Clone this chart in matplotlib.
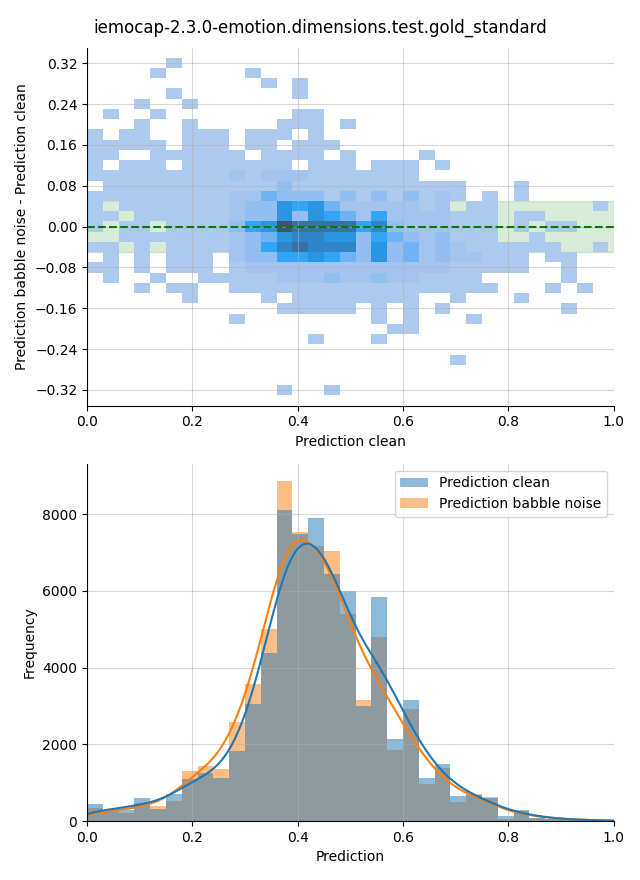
import numpy as np
import pandas as pd
import matplotlib
matplotlib.use("Agg")
import matplotlib.pyplot as plt
import seaborn as sns
from matplotlib.colors import ListedColormap, to_rgba
from seaborn.external import husl

title = "iemocap-2.3.0-emotion.dimensions.test.gold_standard"

# --- top panel: 2d histogram, read off the picture as shade levels ---
# 33 x 33 cells, first string is the top row, 0 = empty cell
cell_x_range = (0.0, 0.99)
cell_y_range = (-0.331, 0.331)
cell_rows = [
    "0000010000 0000000000 0000000000 000",
    "0000100000 1000000000 0000000000 000",
    "0000000000 0101000000 0000000000 000",
    "0000010000 0001000000 0000000000 000",
    "0001001000 0000000000 0000000000 000",
    "0100100000 0001100000 0000000000 000",
    "0001001000 0011101000 0000000000 000",
    "1011001110 1110100000 0000000000 000",
    "1111101110 1101110000 0000000000 000",
    "1100111111 0111101000 0100000000 000",
    "1011101111 1110111011 1010000000 000",
    "1111111112 1222111111 1000000000 000",
    "0111111111 1131111111 1111000100 000",
    "1111111112 2433313131 3121010100 000",
    "1011111112 3365642222 2120110000 001",
    "1101111112 3363654252 2221110110 000",
    "1011011113 5698888573 2221110101 100",
    "0011111112 3467766354 3231110010 000",
    "1101011112 3578777363 4232111111 001",
    "0101011102 3355654363 4232211101 100",
    "1101011101 2222222222 2221111100 100",
    "0100100111 1122232232 2111100000 100",
    "0001011001 1111111111 1111110001 010",
    "0000001000 0101111111 1001000100 000",
    "0000000000 0011111010 1010000000 100",
    "0000000001 0000000010 1000100000 000",
    "0000000000 0000000001 1000000000 000",
    "0000000000 0000100010 0000000000 000",
    "0000000000 0000000000 0000000000 000",
    "0000000000 0000000000 0001000000 000",
    "0000000000 0000000000 0000000000 000",
    "0000000000 0000000000 0000000000 000",
    "0000000000 0010010000 0000000000 000",
]
# colormap position for each shade level 1..9
shade_values = [0.0, 0.0, 0.04, 0.1, 0.2, 0.33, 0.45, 0.58, 0.75, 1.0]

# --- bottom panel: counts per bin ---
bin_range = (0.0, 0.99)
clean_counts = [440, 250, 290, 590, 310, 700, 1090, 1250, 1125, 1835, 3050,
                4370, 8110, 7490, 7900, 6450, 6000, 3000, 5830, 2140, 3150,
                1110, 1490, 650, 690, 600, 130, 280, 90, 60, 45, 28, 18]
babble_counts = [340, 270, 200, 480, 390, 520, 1300, 1440, 1360, 2580, 3570,
                 5000, 8870, 7540, 7160, 7050, 5390, 3150, 4810, 1850, 2920,
                 960, 1390, 500, 710, 620, 55, 260, 90, 60, 45, 28, 18]


def cmap_from_color(color):
    # same light->dark ramp seaborn uses for bivariate histograms
    r, g, b, _ = to_rgba(color)
    h, s, _ = husl.rgb_to_husl(r, g, b)
    xx = np.linspace(-1, 1, int(1.15 * 256))[:256]
    ramp = np.zeros((256, 3))
    ramp[:, 0] = h
    ramp[:, 1] = s * np.cos(xx)
    ramp[:, 2] = np.linspace(35, 80, 256)
    colors = np.clip([husl.husl_to_rgb(*hsl) for hsl in ramp], 0, 1)
    return ListedColormap(colors[::-1])


fig = plt.figure(figsize=(6.4, 8.8), dpi=100)
ax1 = fig.add_axes([0.136, 0.539, 0.823, 0.407])
ax2 = fig.add_axes([0.136, 0.067, 0.823, 0.406])

# top panel
levels = np.array([[int(ch) for ch in row.replace(" ", "")] for row in cell_rows])[::-1]
values = np.ma.masked_array(np.array(shade_values)[levels], mask=(levels == 0))
x_edges = np.linspace(*cell_x_range, levels.shape[1] + 1)
y_edges = np.linspace(*cell_y_range, levels.shape[0] + 1)

ax1.axhspan(-0.05, 0.05, color="green", alpha=0.15)
ax1.pcolormesh(x_edges, y_edges, values, cmap=cmap_from_color("C0"), vmin=0, vmax=1)
ax1.axhline(0, color="green", linestyle="--", linewidth=1.5)
ax1.set_xlim(0, 1)
ax1.set_ylim(-0.351, 0.351)
ax1.set_yticks([-0.32, -0.24, -0.16, -0.08, 0.0, 0.08, 0.16, 0.24, 0.32])
ax1.grid(True, alpha=0.5)
ax1.set_xlabel("Prediction clean")
ax1.set_ylabel("Prediction babble noise - Prediction clean")

# bottom panel
bin_edges = np.linspace(*bin_range, len(clean_counts) + 1)
bin_centers = (bin_edges[:-1] + bin_edges[1:]) / 2
df = pd.DataFrame({
    "Prediction": np.concatenate([bin_centers, bin_centers]),
    "count": clean_counts + babble_counts,
    "source": ["Prediction clean"] * len(clean_counts)
    + ["Prediction babble noise"] * len(babble_counts),
})
sns.histplot(data=df, x="Prediction", weights="count", hue="source",
             bins=len(clean_counts), binrange=bin_range, kde=True, linewidth=0,
             kde_kws={"bw_adjust": 0.47, "cut": 3}, ax=ax2)
sns.move_legend(ax2, "upper right", title=None)
ax2.set_xlim(0, 1)
ax2.grid(True, alpha=0.5)
ax2.set_xlabel("Prediction")
ax2.set_ylabel("Frequency")

for ax in (ax1, ax2):
    ax.spines["top"].set_visible(False)
    ax.spines["right"].set_visible(False)

fig.suptitle(title, y=0.979)
fig.savefig("out.png", dpi=100)
